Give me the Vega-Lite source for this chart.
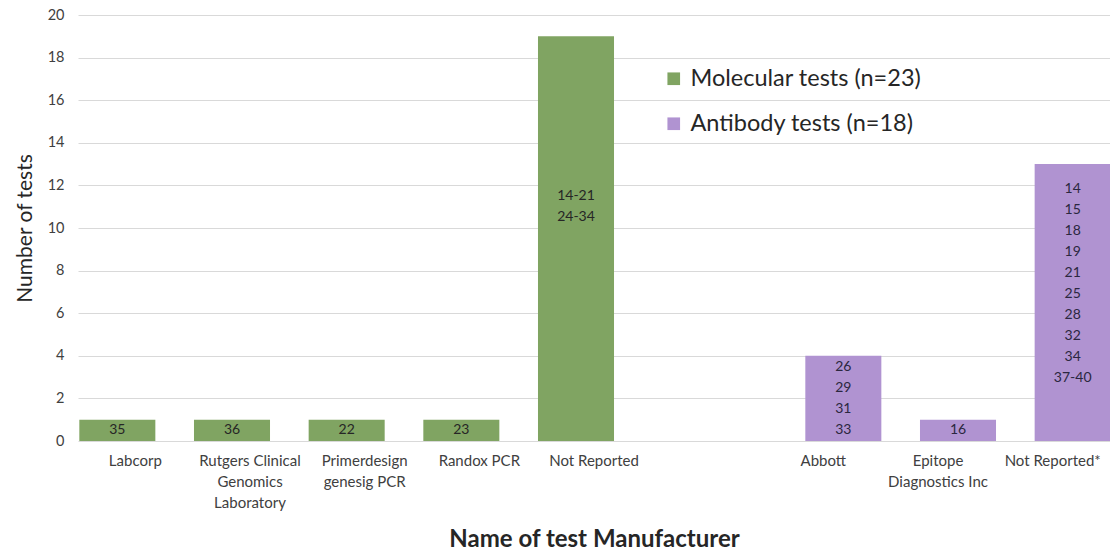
{
  "$schema": "https://vega.github.io/schema/vega-lite/v6.json",
  "width": 1032,
  "height": 426,
  "autosize": {"type": "none"},
  "padding": {"left": 78, "top": 15, "right": 0, "bottom": 118},
  "background": "white",
  "config": {"view": {"stroke": null}, "font": "Lato"},
  "data": {
    "values": [
      {"maker": "Labcorp", "series": "Molecular tests (n=23)", "n": 1, "ids": ["35"]},
      {"maker": "Rutgers Clinical Genomics Laboratory", "series": "Molecular tests (n=23)", "n": 1, "ids": ["36"]},
      {"maker": "Primerdesign genesig PCR", "series": "Molecular tests (n=23)", "n": 1, "ids": ["22"]},
      {"maker": "Randox PCR", "series": "Molecular tests (n=23)", "n": 1, "ids": ["23"]},
      {"maker": "Not Reported", "series": "Molecular tests (n=23)", "n": 19, "ids": ["14-21", "24-34"]},
      {"maker": "Abbott", "series": "Antibody tests (n=18)", "n": 4, "ids": ["26", "29", "31", "33"]},
      {"maker": "Epitope Diagnostics Inc", "series": "Antibody tests (n=18)", "n": 1, "ids": ["16"]},
      {"maker": "Not Reported*", "series": "Antibody tests (n=18)", "n": 13, "ids": ["14", "15", "18", "19", "21", "25", "28", "32", "34", "37-40"]}
    ]
  },
  "transform": [
    {"calculate": "datum.n / 2 + max(0, datum.n - 4) * 0.1 + (length(datum.ids) - 1) * 0.493", "as": "labelTop"}
  ],
  "encoding": {
    "x": {
      "field": "maker",
      "type": "nominal",
      "sort": null,
      "scale": {
        "domain": ["Labcorp", "Rutgers Clinical Genomics Laboratory", "Primerdesign genesig PCR", "Randox PCR", "Not Reported", "(gap)", "Abbott", "Epitope Diagnostics Inc", "Not Reported*"],
        "paddingInner": 0,
        "paddingOuter": 0
      },
      "axis": {
        "title": "Name of test Manufacturer",
        "titleFontSize": 24,
        "titleFontWeight": "bold",
        "titleColor": "#262626",
        "titlePadding": 17,
        "labelAngle": 0,
        "labelFontSize": 15,
        "labelColor": "#404040",
        "labelPadding": 12,
        "labelLineHeight": 21,
        "labelBaseline": "top",
        "labelLimit": 0,
        "ticks": false,
        "domain": false,
        "labelExpr": "datum.value == 'Rutgers Clinical Genomics Laboratory' ? ['Rutgers Clinical', 'Genomics', 'Laboratory'] : datum.value == 'Primerdesign genesig PCR' ? ['Primerdesign', 'genesig PCR'] : datum.value == 'Epitope Diagnostics Inc' ? ['Epitope', 'Diagnostics Inc'] : datum.value == '(gap)' ? '' : datum.value"
      }
    }
  },
  "layer": [
    {
      "transform": [{"filter": "datum.series == 'Molecular tests (n=23)'"}],
      "mark": {"type": "bar", "width": {"band": 0.663}, "xOffset": -18},
      "encoding": {
        "y": {
          "field": "n",
          "type": "quantitative",
          "scale": {"domain": [0, 20]},
          "axis": {
            "title": "Number of tests",
            "titleFontSize": 21,
            "titleFontWeight": "normal",
            "titleColor": "#262626",
            "titlePadding": 12,
            "values": [0, 2, 4, 6, 8, 10, 12, 14, 16, 18, 20],
            "labelFontSize": 14.5,
            "labelColor": "#404040",
            "labelPadding": 14,
            "ticks": false,
            "domain": false,
            "gridColor": "#d9d9d9"
          }
        },
        "color": {
          "field": "series",
          "type": "nominal",
          "scale": {"domain": ["Molecular tests (n=23)", "Antibody tests (n=18)"], "range": ["#80a462", "#b093d1"]},
          "legend": {
            "title": null,
            "orient": "none",
            "legendX": 584,
            "legendY": 52,
            "symbolType": "square",
            "symbolSize": 160,
            "symbolStrokeWidth": 0,
            "labelFontSize": 23.5,
            "labelColor": "#262626",
            "labelLimit": 0,
            "rowPadding": 20,
            "labelOffset": 5
          }
        }
      }
    },
    {
      "transform": [{"filter": "datum.series == 'Antibody tests (n=18)'"}],
      "mark": {"type": "bar", "width": {"band": 0.663}, "xOffset": 20},
      "encoding": {
        "y": {"field": "n", "type": "quantitative"},
        "color": {"field": "series", "type": "nominal"}
      }
    },
    {
      "transform": [{"filter": "datum.series == 'Molecular tests (n=23)'"}],
      "mark": {"type": "text", "xOffset": -18, "fontSize": 14, "lineHeight": 21, "color": "#262626", "baseline": "middle"},
      "encoding": {
        "y": {"field": "labelTop", "type": "quantitative"},
        "text": {"field": "ids"}
      }
    },
    {
      "transform": [{"filter": "datum.series == 'Antibody tests (n=18)'"}],
      "mark": {"type": "text", "xOffset": 20, "fontSize": 14, "lineHeight": 21, "color": "#2b2740", "baseline": "middle"},
      "encoding": {
        "y": {"field": "labelTop", "type": "quantitative"},
        "text": {"field": "ids"}
      }
    }
  ]
}
